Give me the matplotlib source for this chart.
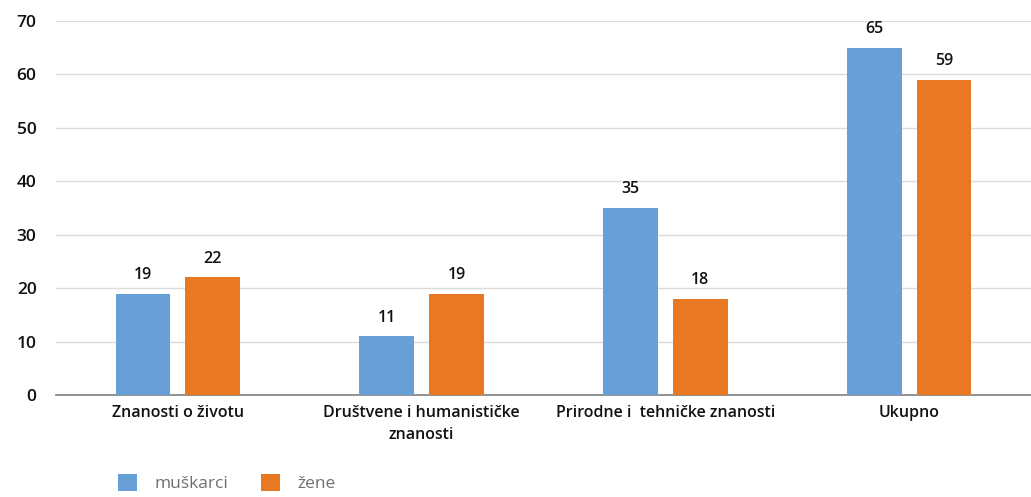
import matplotlib.pyplot as plt
import numpy as np

categories = ['Znanosti o životu', 'Društvene i humanističke\nznanosti',
              'Prirodne i  tehničke znanosti', 'Ukupno']
muskarci = [19, 11, 35, 65]
zene = [22, 19, 18, 59]

plt.rcParams['font.family'] = ['Open Sans', 'DejaVu Sans']

fig = plt.figure(figsize=(10.31, 4.97), dpi=100)
ax = fig.add_axes([0.0543, 0.2052, 0.9457, 0.7525])

x = np.arange(len(categories))
w = 0.225
off = 0.143
b1 = ax.bar(x - off, muskarci, w, color='#689fd7', label='muškarci', zorder=3)
b2 = ax.bar(x + off, zene, w, color='#e97823', label='žene', zorder=3)

for bars, vals in ((b1, muskarci), (b2, zene)):
    for b, v in zip(bars, vals):
        ax.text(b.get_x() + b.get_width() / 2, v + 2.0, str(v), ha='center', va='bottom',
                fontsize=11.5, fontweight='semibold', color='#111111')

ax.set_xlim(-0.5, 3.5)
ax.set_ylim(0, 70)
ax.set_yticks(range(0, 71, 10))
ax.set_xticks(x)
ax.set_xticklabels(categories, fontsize=11.5, fontweight='semibold', color='#111111',
                   linespacing=1.5)
ax.tick_params(axis='y', labelsize=12.5, length=0, pad=14, labelcolor='#111111')
ax.tick_params(axis='x', length=0, pad=7)
for lab in ax.get_yticklabels():
    lab.set_fontweight('semibold')
ax.grid(axis='y', color='#dcdcdc', linewidth=1, zorder=0)
for s in ['top', 'right', 'left']:
    ax.spines[s].set_visible(False)
ax.spines['bottom'].set_color('#7f7f7f')
ax.spines['bottom'].set_linewidth(1.2)

leg = fig.legend(handles=[b1, b2], loc='lower left', bbox_to_anchor=(0.099, -0.022),
                 ncol=2, frameon=False, fontsize=12.5, handlelength=1.1, handleheight=1.1,
                 columnspacing=1.9, handletextpad=1.0)
for t in leg.get_texts():
    t.set_color('#707070')

fig.savefig('out.png', dpi=100)
